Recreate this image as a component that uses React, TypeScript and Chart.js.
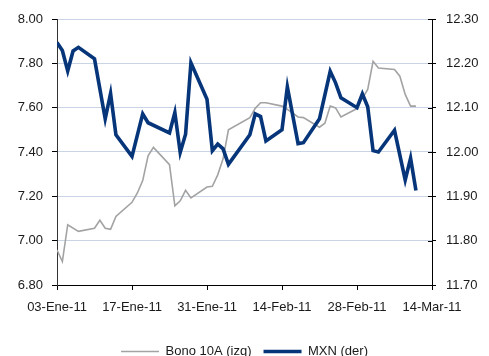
import { useEffect, useRef } from 'react';
import { Chart, registerables } from 'chart.js';

Chart.register(...registerables);

// Axis labels along the date axis (every 14 days from the first date)
const xTickLabels = ['03-Ene-11', '17-Ene-11', '31-Ene-11', '14-Feb-11', '28-Feb-11', '14-Mar-11'];
const startDate = '2011-01-03';
const endDate = '2011-03-14';

// Bono 10A yield (left axis)
const bonoDates = [
  '2011-01-03', '2011-01-04', '2011-01-05', '2011-01-07', '2011-01-10', '2011-01-11',
  '2011-01-12', '2011-01-13', '2011-01-14', '2011-01-17', '2011-01-18', '2011-01-19',
  '2011-01-20', '2011-01-21', '2011-01-24', '2011-01-25', '2011-01-26', '2011-01-27',
  '2011-01-28', '2011-01-31', '2011-02-01', '2011-02-02', '2011-02-03', '2011-02-04',
  '2011-02-08', '2011-02-09', '2011-02-10', '2011-02-11', '2011-02-14', '2011-02-15',
  '2011-02-17', '2011-02-18', '2011-02-21', '2011-02-22', '2011-02-23', '2011-02-24',
  '2011-02-25', '2011-02-28', '2011-03-01', '2011-03-02', '2011-03-03', '2011-03-04',
  '2011-03-07', '2011-03-08', '2011-03-09', '2011-03-10', '2011-03-11',
];
const bonoValues = [
  6.958, 6.906, 7.072, 7.042, 7.056, 7.092,
  7.056, 7.051, 7.109, 7.173, 7.215, 7.271,
  7.383, 7.421, 7.343, 7.157, 7.180, 7.227,
  7.193, 7.242, 7.245, 7.297, 7.369, 7.500,
  7.555, 7.597, 7.622, 7.622, 7.607, 7.592,
  7.558, 7.555, 7.512, 7.530, 7.607, 7.599,
  7.558, 7.596, 7.642, 7.682, 7.809, 7.779,
  7.772, 7.742, 7.660, 7.607, 7.607,
];

// MXN exchange rate (right axis)
const mxnDates = [
  '2011-01-03', '2011-01-04', '2011-01-05', '2011-01-06', '2011-01-07', '2011-01-10',
  '2011-01-12', '2011-01-13', '2011-01-14', '2011-01-17', '2011-01-19', '2011-01-20',
  '2011-01-24', '2011-01-25', '2011-01-26', '2011-01-27', '2011-01-28', '2011-01-31',
  '2011-02-01', '2011-02-02', '2011-02-03', '2011-02-04', '2011-02-08', '2011-02-09',
  '2011-02-10', '2011-02-11', '2011-02-14', '2011-02-15', '2011-02-17', '2011-02-18',
  '2011-02-21', '2011-02-23', '2011-02-24', '2011-02-25', '2011-02-28', '2011-03-01',
  '2011-03-02', '2011-03-03', '2011-03-04', '2011-03-07', '2011-03-09', '2011-03-10',
  '2011-03-11',
];
const mxnValues = [
  12.247, 12.229, 12.183, 12.228, 12.236, 12.210,
  12.075, 12.132, 12.039, 11.990, 12.086, 12.066,
  12.043, 12.089, 11.999, 12.040, 12.201, 12.119,
  12.003, 12.018, 12.007, 11.972, 12.039, 12.086,
  12.080, 12.025, 12.050, 12.147, 12.019, 12.021,
  12.075, 12.182, 12.156, 12.122, 12.100, 12.131,
  12.102, 12.003, 12.000, 12.049, 11.937, 11.986,
  11.913,
];

const bonoLabel = 'Bono 10A (izq)';
const mxnLabel = 'MXN (der)';

const DAY_MS = 86400000;
const dayOffset = (d: string) => (Date.parse(d) - Date.parse(startDate)) / DAY_MS;
const toPoints = (dates: string[], values: number[]) =>
  dates.map((d, i) => ({ x: dayOffset(d), y: values[i] }));

const TEXT = '#1a1a1a';
const GRID = '#c9d4e5';
const AXIS = '#000000';

// Small tick marks on the inner side of the right axis
const innerRightTicks = {
  id: 'innerRightTicks',
  afterDraw(chart: any) {
    const s = chart.scales.yR;
    if (!s) return;
    const ctx = chart.ctx;
    ctx.save();
    ctx.strokeStyle = AXIS;
    ctx.lineWidth = 1;
    s.ticks.forEach((t: any) => {
      const y = Math.round(s.getPixelForValue(t.value)) + 0.5;
      ctx.beginPath();
      ctx.moveTo(s.left - 4, y);
      ctx.lineTo(s.left, y);
      ctx.stroke();
    });
    ctx.restore();
  },
};

export default function App() {
  const canvasRef = useRef<HTMLCanvasElement | null>(null);

  useEffect(() => {
    if (!canvasRef.current) return;
    Chart.defaults.font.family = '"Liberation Sans", Arial, Helvetica, sans-serif';
    Chart.defaults.font.size = 13;
    Chart.defaults.color = TEXT;

    const chart = new Chart(canvasRef.current, {
      type: 'line',
      data: {
        datasets: [
          {
            label: bonoLabel,
            data: toPoints(bonoDates, bonoValues),
            yAxisID: 'yL',
            borderColor: '#a3a3a3',
            backgroundColor: '#a3a3a3',
            borderWidth: 1.6,
            pointRadius: 0,
            tension: 0,
            order: 2,
          },
          {
            label: mxnLabel,
            data: toPoints(mxnDates, mxnValues),
            yAxisID: 'yR',
            borderColor: '#06357a',
            backgroundColor: '#06357a',
            borderWidth: 3.6,
            pointRadius: 0,
            tension: 0,
            order: 1,
          },
        ],
      },
      options: {
        responsive: false,
        animation: false,
        events: [],
        layout: { padding: { top: 19, left: 0, right: 0, bottom: 0 } },
        plugins: {
          legend: {
            position: 'bottom',
            labels: {
              usePointStyle: true,
              pointStyle: 'line',
              pointStyleWidth: 38,
              padding: 12,
              color: TEXT,
              font: { size: 13 },
              sort: (a: any, b: any) => a.datasetIndex - b.datasetIndex,
            },
          },
          tooltip: { enabled: false },
        },
        scales: {
          x: {
            type: 'linear',
            min: 0,
            max: dayOffset(endDate),
            ticks: {
              stepSize: 14,
              autoSkip: false,
              maxRotation: 0,
              padding: 10,
              color: TEXT,
              callback: (_v: any, i: number) => xTickLabels[i],
            },
            grid: { drawOnChartArea: false, tickLength: 5, color: AXIS },
            border: { color: AXIS, width: 1 },
            afterFit: (s: any) => {
              s.height = 48;
            },
          },
          yL: {
            type: 'linear',
            position: 'left',
            min: 6.8,
            max: 8.0,
            ticks: {
              stepSize: 0.2,
              padding: 9,
              color: TEXT,
              callback: (v: any) => Number(v).toFixed(2),
            },
            grid: { color: GRID, tickColor: AXIS, tickLength: 5, lineWidth: 1 },
            border: { color: '#333333', width: 1 },
            afterFit: (s: any) => {
              s.width = 57;
            },
          },
          yR: {
            type: 'linear',
            position: 'right',
            min: 11.7,
            max: 12.3,
            ticks: {
              stepSize: 0.1,
              padding: 10,
              color: TEXT,
              callback: (v: any) => Number(v).toFixed(2),
            },
            grid: { drawOnChartArea: false, tickColor: AXIS, tickLength: 4 },
            border: { color: AXIS, width: 1 },
            afterFit: (s: any) => {
              s.width = 57;
            },
          },
        },
      } as any,
      plugins: [innerRightTicks],
    });

    return () => chart.destroy();
  }, []);

  return (
    <div
      style={{
        position: 'fixed',
        left: 0,
        top: 0,
        width: 489,
        height: 356,
        overflow: 'hidden',
        background: '#ffffff',
      }}
    >
      <canvas ref={canvasRef} width={489} height={368} style={{ display: 'block' }} />
    </div>
  );
}
